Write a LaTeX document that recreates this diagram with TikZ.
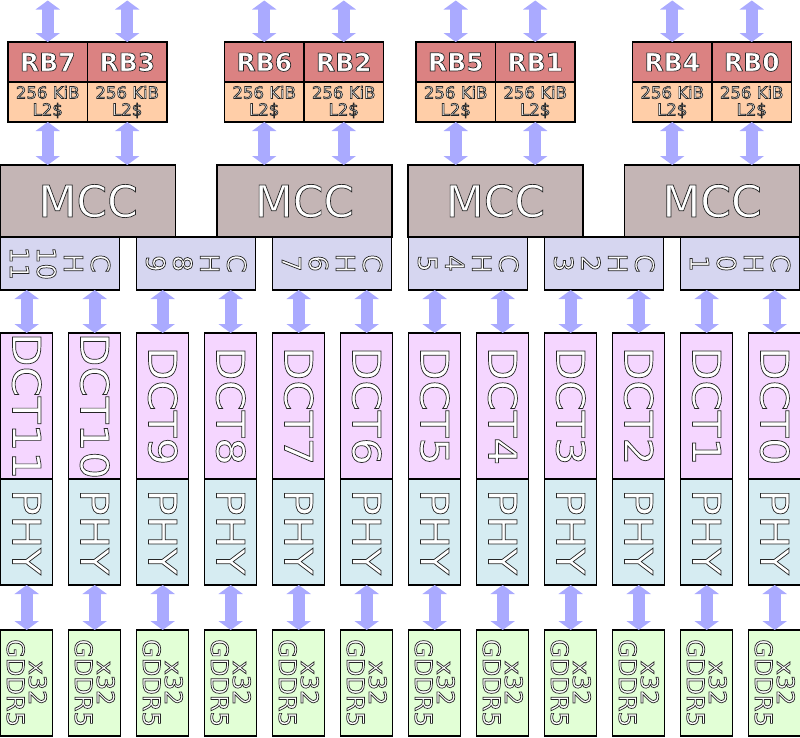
\documentclass[tikz,border=0pt]{standalone}
\usepackage{fontspec}
\setmainfont{DejaVu Sans}
\newfontfamily\widefont[FakeStretch=1.12]{DejaVu Sans}
\usetikzlibrary{arrows.meta}
\definecolor{rbc}{RGB}{219,130,130}
\definecolor{l2c}{RGB}{255,206,168}
\definecolor{mccc}{RGB}{196,181,181}
\definecolor{chc}{RGB}{214,214,240}
\definecolor{dctc}{RGB}{245,214,255}
\definecolor{phyc}{RGB}{214,236,242}
\definecolor{gddrc}{RGB}{226,255,214}
\definecolor{arrc}{RGB}{170,170,255}
\newcommand\ol[1]{\special{pdf:literal direct 2 Tr 0.7 w 0.15 0.15 0.15 RG}#1\special{pdf:literal direct 0 Tr 1 1 1 RG}}
\newcommand\fs[2]{\fontsize{#1}{#2}\selectfont}
\begin{document}
\begin{tikzpicture}[x=1pt,y=-1pt,
  box/.style={draw=black, line width=1.2pt, inner sep=0pt, outer sep=0pt, anchor=north west, text=white},
  vtext/.style={rotate=-90, text=white, inner sep=0pt, align=center},
  bigarrow/.style={draw=arrc, line width=12pt, {Triangle[width=24pt,length=9pt]}-{Triangle[width=24pt,length=9pt]}}]
\useasboundingbox (0,0) rectangle (800,737);
% RB and L2 boxes
\foreach \r/\x in {7/8,3/87.5,6/224.5,2/304,5/416,1/495.5,4/632.5,0/712} {
  \node[box, fill=rbc, minimum width=79.5pt, minimum height=40pt, font=\bfseries\fs{25}{30}] (rb\r) at (\x,42) {\ol{RB\r}};
  \node[box, fill=l2c, minimum width=79.5pt, minimum height=40pt, align=center, font=\fs{16.5}{17}] (l2\r) at (\x,82) {\ol{256 KiB}\\\ol{L2\$}};
  \coordinate (top\r) at ({\x+39.75},0.5);
  \draw[bigarrow] (top\r) -- (rb\r.north);
}
% MCC boxes
\foreach \m/\x in {0/0.7,1/217,2/408,3/624.6} {
  \node[box, fill=mccc, minimum width=175pt, minimum height=72pt, font=\fs{44}{50}] (mcc\m) at (\x,165) {\ol{MCC}};
}
\foreach \r/\m in {7/0,3/0,6/1,2/1,5/2,1/2,4/3,0/3} {
  \draw[bigarrow] (l2\r.south) -- (l2\r.south |- mcc\m.north);
}
% CH boxes
\foreach \k/\a/\b in {0/10/11,1/8/9,2/6/7,3/4/5,4/2/3,5/0/1} {
  \node[box, fill=chc, minimum width=119pt, minimum height=53pt] (ch\k) at ({136*\k+0.7},237) {};
  \node[vtext, font=\fs{26}{27}] (cht\k) at (ch\k.center) {\ol{C}\\\ol{H}\\\ol{\a}\\\ol{\b}};
}
% DCT, PHY, GDDR columns
\foreach \i in {0,...,11} {
  \pgfmathtruncatemacro\n{11-\i}
  \pgfmathtruncatemacro\k{int(\i/2)}
  \node[box, fill=dctc, minimum width=52pt, minimum height=146pt] (dct\n) at ({68*\i+0.7},333) {};
  \node[vtext, font=\widefont\fs{39}{40}] (dctt\n) at (dct\n.center) {\ol{DCT\n}};
  \node[box, fill=phyc, minimum width=52pt, minimum height=106pt] (phy\n) at ({68*\i+0.7},479) {};
  \node[vtext, font=\widefont\fs{39}{40}] (phyt\n) at (phy\n.center) {\ol{PHY}};
  \node[box, fill=gddrc, minimum width=52pt, minimum height=106pt] (gddr\n) at ({68*\i+0.7},630) {};
  \node[vtext, font=\fs{24}{22}] (gddrt\n) at (gddr\n.center) {\ol{x32}\\\ol{GDDR5}};
  \draw[bigarrow] (dct\n.north |- ch\k.south) -- (dct\n.north);
  \draw[bigarrow] (phy\n.south) -- (gddr\n.north);
}
\end{tikzpicture}
\end{document}
